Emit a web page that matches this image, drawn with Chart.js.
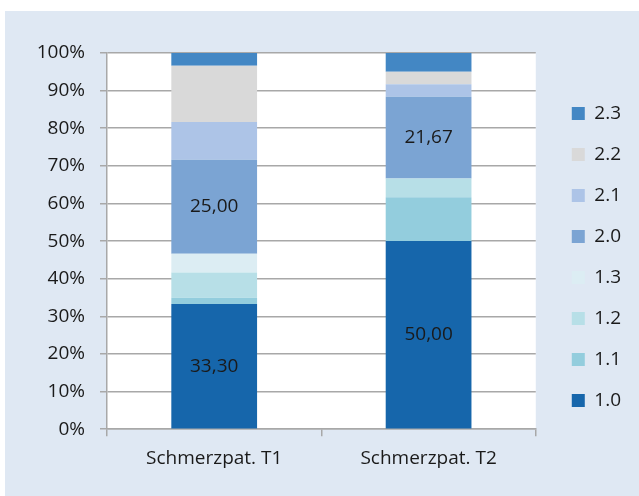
<!DOCTYPE html>
<html>
<head>
<meta charset="utf-8">
<script src="https://cdn.jsdelivr.net/npm/chart.js@4"></script>
<style>
  html, body { margin: 0; padding: 0; background: #ffffff; }
  #panel { position: absolute; left: 5px; top: 11px; width: 634px; height: 485px; background: #dfe8f3; }
  #chart { display: block; }
</style>
</head>
<body>
<div id="panel"><canvas id="chart" width="634" height="485"></canvas></div>
<script>
// Categories and stacked percentage shares per group
const categories = ['Schmerzpat. T1', 'Schmerzpat. T2'];
const s10 = [33.30, 50.00];
const s11 = [1.67, 11.67];
const s12 = [6.67, 5.00];
const s13 = [5.00, 0];
const s20 = [25.00, 21.67];
const s21 = [10.00, 3.33];
const s22 = [15.00, 3.33];
const s23 = [3.33, 5.00];
const yTicks = [0, 10, 20, 30, 40, 50, 60, 70, 80, 90, 100];

const FONT = "'Open Sans', sans-serif";
const TEXT = '#1a1a1a';
const GRID = '#a8a8a8';

const series = [
  { label: '1.0', data: s10, color: '#1666ab', showValue: true },
  { label: '1.1', data: s11, color: '#93cddd' },
  { label: '1.2', data: s12, color: '#b7dfe7' },
  { label: '1.3', data: s13, color: '#dcedf3' },
  { label: '2.0', data: s20, color: '#7ba4d3', showValue: true },
  { label: '2.1', data: s21, color: '#adc4e7' },
  { label: '2.2', data: s22, color: '#d9d9d9' },
  { label: '2.3', data: s23, color: '#4387c4' }
];

// White plot area behind the bars
const plotBackground = {
  id: 'plotBackground',
  beforeDraw(chart) {
    const { ctx, chartArea: a } = chart;
    ctx.save();
    ctx.fillStyle = '#ffffff';
    ctx.fillRect(a.left, a.top, a.right - a.left, a.bottom - a.top);
    ctx.restore();
  }
};

// Move the legend column a bit away from the plot and up
const legendGap = {
  id: 'legendGap',
  afterLayout(chart) {
    const lg = chart.legend;
    if (lg) {
      lg.left += 14; lg.right += 14;
      lg.top -= 10; lg.bottom -= 10;
    }
  }
};

// Values written inside the marked segments
const segmentValues = {
  id: 'segmentValues',
  afterDatasetsDraw(chart) {
    const { ctx } = chart;
    ctx.save();
    ctx.font = '19px ' + FONT;
    ctx.fillStyle = TEXT;
    ctx.textAlign = 'center';
    ctx.textBaseline = 'middle';
    chart.data.datasets.forEach((ds, i) => {
      if (!ds.showValue) return;
      chart.getDatasetMeta(i).data.forEach((bar, j) => {
        const v = ds.data[j];
        if (!v) return;
        const c = bar.getCenterPoint();
        ctx.fillText(v.toFixed(2).replace('.', ','), c.x, c.y);
      });
    });
    ctx.restore();
  }
};

new Chart(document.getElementById('chart'), {
  type: 'bar',
  data: {
    labels: categories,
    datasets: series.map(s => ({
      label: s.label,
      data: s.data,
      backgroundColor: s.color,
      borderWidth: 0,
      showValue: !!s.showValue,
      categoryPercentage: 1,
      barPercentage: 0.4
    }))
  },
  options: {
    responsive: false,
    devicePixelRatio: 1,
    animation: false,
    layout: { padding: { left: 0, top: 42, right: 22, bottom: 15 } },
    plugins: {
      legend: {
        position: 'right',
        reverse: true,
        labels: {
          font: { family: FONT, size: 19 },
          color: TEXT,
          boxWidth: 13,
          boxHeight: 13,
          padding: 22
        }
      },
      tooltip: { enabled: false }
    },
    scales: {
      x: {
        stacked: true,
        grid: { display: true, drawOnChartArea: false, drawTicks: true, tickLength: 7, color: GRID, lineWidth: 1.5, offset: true },
        border: { display: true, color: GRID, width: 1.5 },
        ticks: { font: { family: FONT, size: 19 }, color: TEXT, padding: 11 }
      },
      y: {
        stacked: true,
        min: 0,
        max: 100,
        afterFit(scale) { scale.width = 102; },
        afterBuildTicks(scale) { scale.ticks = yTicks.map(v => ({ value: v })); },
        grid: { color: GRID, lineWidth: 1.5, tickLength: 7 },
        border: { display: true, color: GRID, width: 1.5 },
        ticks: { font: { family: FONT, size: 19 }, color: TEXT, padding: 15, callback: v => v + '%' }
      }
    }
  },
  plugins: [plotBackground, legendGap, segmentValues]
});
</script>
</body>
</html>
